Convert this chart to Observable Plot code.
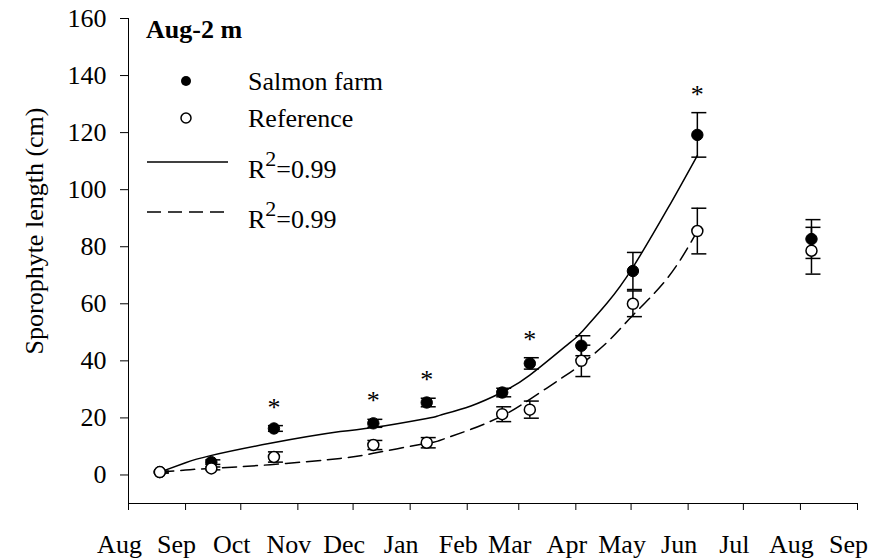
<!DOCTYPE html>
<html><head><meta charset="utf-8">
<script src="https://cdn.jsdelivr.net/npm/d3@7"></script>
<script src="https://cdn.jsdelivr.net/npm/@observablehq/plot@0.6"></script>
<style>
html,body{margin:0;padding:0;background:#fff;}
#chart svg{display:block;}
</style></head><body><div id="chart"></div>
<script>
// ---- data ----
const sampleDates = ["2010-08-18","2010-09-15","2010-10-19","2010-12-12","2011-01-10","2011-02-20","2011-03-07","2011-04-04","2011-05-02","2011-06-06","2011-08-07"];
const farmMean = [1.0, 4.5, 16.3, 18.1, 25.4, 28.9, 39.1, 45.3, 71.5, 119.2, 82.7];
const farmErr  = [0.3, 0.8, 1.0, 1.4, 1.5, 1.5, 2.0, 3.5, 6.5, 7.8, 6.8];
const refMean  = [1.0, 2.3, 6.3, 10.5, 11.3, 21.3, 22.9, 40.0, 60.0, 85.5, 78.6];
const refErr   = [0.3, 0.5, 1.8, 1.6, 1.8, 2.6, 3.0, 5.5, 4.5, 8.0, 8.2];
const significant = [false, false, true, true, true, false, true, false, false, true, false];

const fitDates = ["2010-08-18","2010-09-01","2010-09-14","2010-10-17","2010-11-24","2010-12-12","2011-01-10","2011-01-17","2011-02-03","2011-02-20","2011-03-07","2011-03-29","2011-04-04","2011-04-18","2011-05-02","2011-05-21","2011-06-06"];
const farmFit = [1.0, 4.3, 6.7, 11.1, 15.2, 16.6, 19.8, 20.9, 24.2, 29.0, 35.0, 46.5, 50.0, 60.3, 72.8, 93.5, 112.0];
const refFit  = [1.0, 1.7, 2.3, 3.6, 5.8, 7.6, 11.1, 12.1, 16.0, 20.7, 26.5, 36.0, 38.8, 46.5, 56.0, 69.2, 85.5];

const monthTicks = ["2010-08-01","2010-09-01","2010-10-01","2010-11-01","2010-12-01","2011-01-01","2011-02-01","2011-03-01","2011-04-01","2011-05-01","2011-06-01","2011-07-01","2011-08-01","2011-09-01"];
const monthLabels = ["Aug","Sep","Oct","Nov","Dec","Jan","Feb","Mar","Apr","May","Jun","Jul","Aug","Sep"];
const yTicks = [0, 20, 40, 60, 80, 100, 120, 140, 160];
const seriesNames = ["Salmon farm", "Reference"];
const fitLabel = "=0.99";

// ---- build tables ----
const D = s => new Date(s + "T00:00:00Z");
const farm = sampleDates.map((d, i) => ({date: D(d), v: farmMean[i], e: farmErr[i], sig: significant[i]}));
const ref = sampleDates.map((d, i) => ({date: D(d), v: refMean[i], e: refErr[i]}));
const fitS = fitDates.map((d, i) => ({date: D(d), v: farmFit[i]}));
const fitR = fitDates.map((d, i) => ({date: D(d), v: refFit[i]}));
const months = monthTicks.map((d, i) => ({date: D(d), label: monthLabels[i]}));

const cap = {draw(ctx) { ctx.moveTo(-6, 0); ctx.lineTo(9, 0); }};
const FONT = "'Liberation Serif', 'Times New Roman', serif";

const chart = Plot.plot({
  width: 875, height: 558,
  marginLeft: 128, marginRight: 18, marginTop: 18, marginBottom: 55,
  style: {fontFamily: FONT, fontSize: "26px", background: "#fff", color: "#000", overflow: "visible"},
  x: {type: "utc", domain: [D("2010-08-01"), D("2011-09-01")], ticks: months.map(d => d.date), tickFormat: () => "", tickSize: 7, line: true, label: null},
  y: {domain: [-10, 160], ticks: yTicks, tickSize: 8, tickPadding: 14, line: true, label: null},
  marks: [
    Plot.line(fitR, {x: "date", y: "v", curve: "natural", stroke: "#000", strokeWidth: 1.5, strokeDasharray: "14,7"}),
    Plot.line(fitS, {x: "date", y: "v", curve: "natural", stroke: "#000", strokeWidth: 1.5}),
    Plot.ruleX(farm, {x: "date", y1: d => d.v - d.e, y2: d => d.v + d.e, stroke: "#000", strokeWidth: 1.5}),
    Plot.dot(farm, {x: "date", y: d => d.v + d.e, symbol: cap, r: 5, fill: "none", stroke: "#000", strokeWidth: 1.5}),
    Plot.dot(farm, {x: "date", y: d => d.v - d.e, symbol: cap, r: 5, fill: "none", stroke: "#000", strokeWidth: 1.5}),
    Plot.dot(farm, {x: "date", y: "v", r: 5.7, fill: "#000", stroke: "#000", strokeWidth: 1}),
    Plot.ruleX(ref, {x: "date", y1: d => d.v - d.e, y2: d => d.v + d.e, stroke: "#000", strokeWidth: 1.5}),
    Plot.dot(ref, {x: "date", y: d => d.v + d.e, symbol: cap, r: 5, fill: "none", stroke: "#000", strokeWidth: 1.5}),
    Plot.dot(ref, {x: "date", y: d => d.v - d.e, symbol: cap, r: 5, fill: "none", stroke: "#000", strokeWidth: 1.5}),
    Plot.dot(ref, {x: "date", y: "v", r: 5.5, fill: "#fff", stroke: "#000", strokeWidth: 1.5}),
    Plot.text(farm.filter(d => d.sig), {x: "date", y: d => d.v + d.e, text: () => "*", lineAnchor: "bottom", dy: -10, fontSize: 26, fill: "#000"}),
    Plot.text(months, {x: "date", text: "label", frameAnchor: "bottom", textAnchor: "middle", lineAnchor: "bottom", dy: 49, dx: -9, fontSize: 26, fill: "#000"}),
    Plot.text(["Sporophyte length (cm)"], {text: d => d, frameAnchor: "left", textAnchor: "middle", lineAnchor: "middle", rotate: -90, dx: -94, dy: -30, fontSize: 26, fill: "#000"})
  ]
});

document.getElementById("chart").appendChild(chart);

// ---- legend (inside the frame, top-left) ----
const svg = d3.select(chart);
const lg = svg.append("g").attr("font-family", FONT).attr("font-size", 26).attr("fill", "#000").attr("text-anchor", "start");
lg.append("text").attr("x", 146).attr("y", 38).attr("font-weight", "bold").text("Aug-2 m");
lg.append("circle").attr("cx", 186).attr("cy", 81).attr("r", 5).attr("fill", "#000");
lg.append("text").attr("x", 248).attr("y", 90).text(seriesNames[0]);
lg.append("circle").attr("cx", 186).attr("cy", 118).attr("r", 5).attr("fill", "#fff").attr("stroke", "#000").attr("stroke-width", 1.5);
lg.append("text").attr("x", 248).attr("y", 127).text(seriesNames[1]);
lg.append("line").attr("x1", 147).attr("x2", 228).attr("y1", 162).attr("y2", 162).attr("stroke", "#000").attr("stroke-width", 1.5);
lg.append("line").attr("x1", 147).attr("x2", 228).attr("y1", 212).attr("y2", 212).attr("stroke", "#000").attr("stroke-width", 1.5).attr("stroke-dasharray", "14,7");
[178, 228].forEach(y => {
  const t = lg.append("text").attr("x", 248).attr("y", y);
  t.append("tspan").text("R");
  t.append("tspan").attr("dy", -12).attr("font-size", 22).text("2");
  t.append("tspan").attr("dy", 12).text(fitLabel);
});
</script>
</body></html>
